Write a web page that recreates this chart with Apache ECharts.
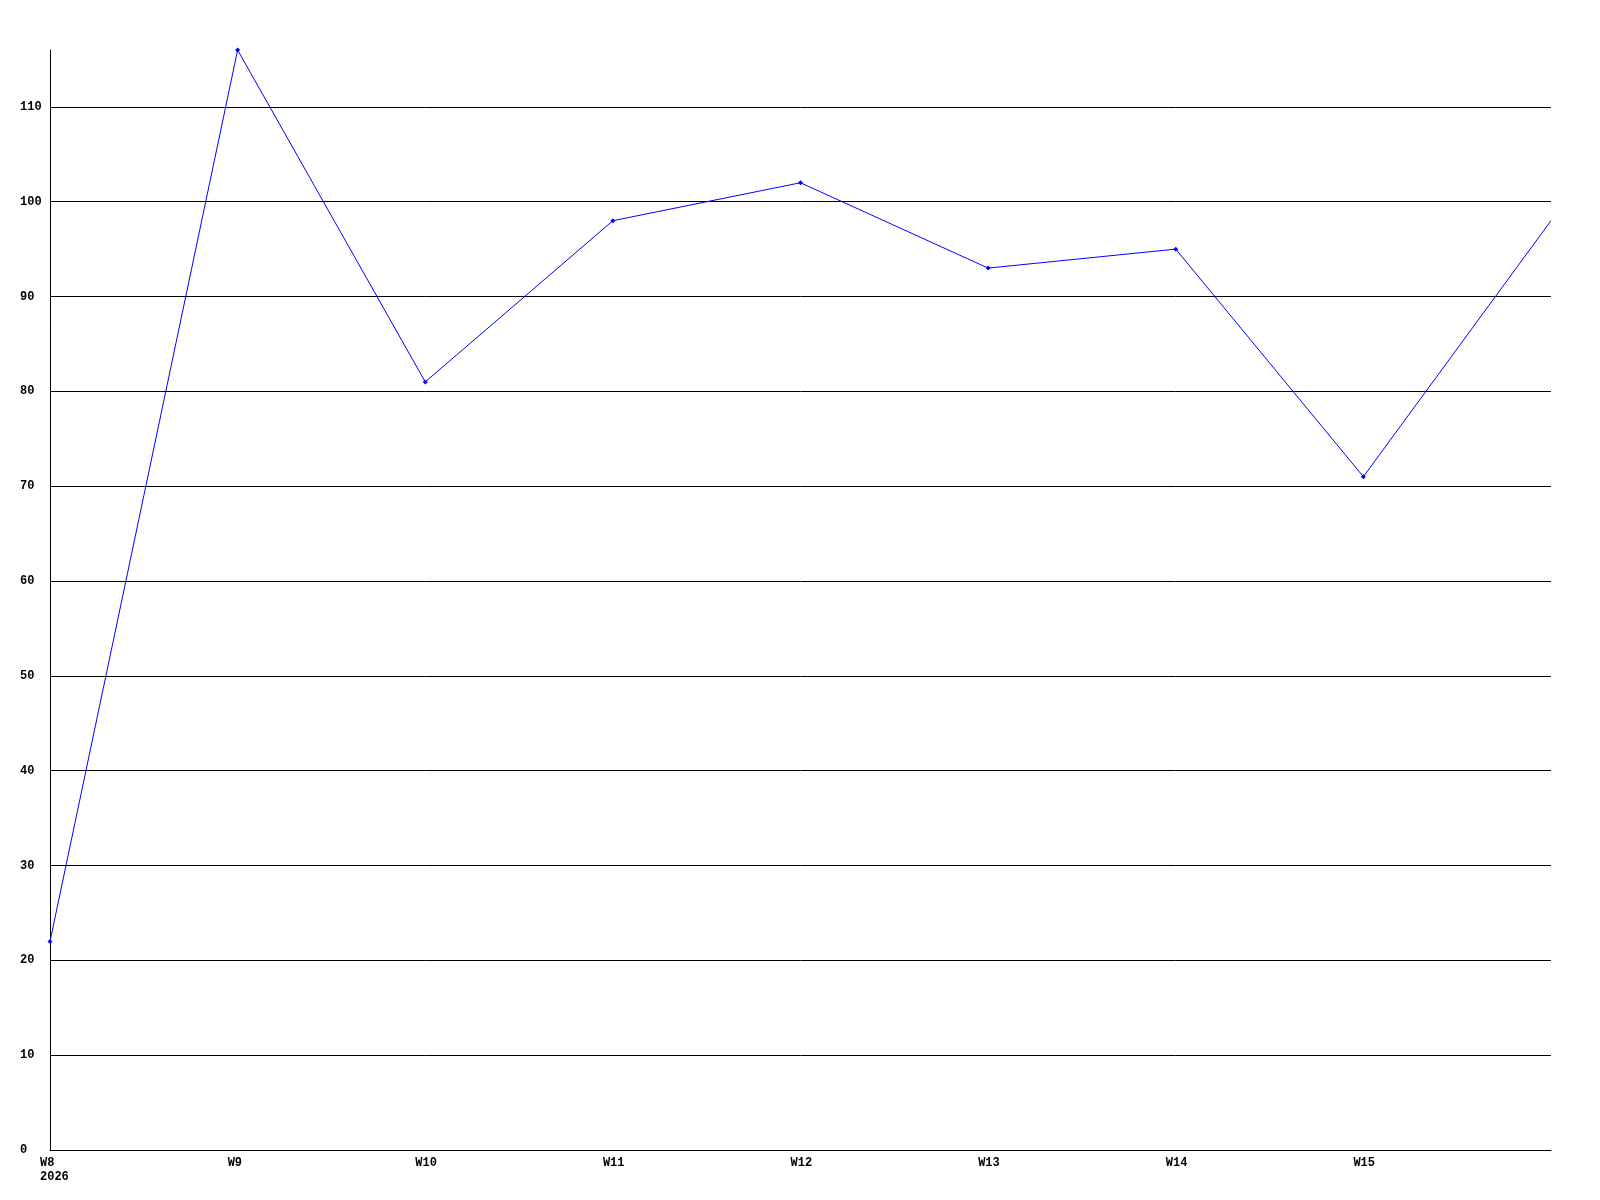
<!DOCTYPE html>
<html>
<head>
<meta charset="utf-8">
<script src="https://cdn.jsdelivr.net/npm/echarts@6/dist/echarts.min.js"></script>
<style>html,body{margin:0;padding:0;background:#fff}#c{width:1600px;height:1200px}</style>
</head>
<body>
<div id="c"></div>
<script>
const categories = ['W8', 'W9', 'W10', 'W11', 'W12', 'W13', 'W14', 'W15', 'W16'];
const categoryLabels = ['W8\n2026', 'W9', 'W10', 'W11', 'W12', 'W13', 'W14', 'W15', ''];
const values = [22, 116, 81, 98, 102, 93, 95, 71, 98];
const yMin = 0, yMax = 116, yInterval = 10;

const chart = echarts.init(document.getElementById('c'), null, {renderer: 'canvas'});
const font = {fontFamily: 'Liberation Mono, DejaVu Sans Mono, monospace', fontWeight: 'bold', fontSize: 12, color: '#000'};
chart.setOption({
  animation: false,
  backgroundColor: '#fff',
  grid: {left: 50, right: 49, top: 50, bottom: 50, containLabel: false},
  xAxis: {
    type: 'category',
    data: categories,
    boundaryGap: false,
    axisLine: {show: true, lineStyle: {color: '#000', width: 1}},
    axisTick: {show: false},
    splitLine: {show: false},
    axisLabel: Object.assign({}, font, {
      margin: 6, lineHeight: 14, verticalAlign: 'top', align: 'left', interval: 0,
      padding: [0, 0, 0, -10],
      formatter: (v, i) => categoryLabels[i]
    })
  },
  yAxis: {
    type: 'value',
    min: yMin, max: yMax, interval: yInterval,
    axisLine: {show: true, lineStyle: {color: '#000', width: 1}},
    axisTick: {show: false},
    splitLine: {show: true, showMaxLine: false, lineStyle: {color: '#000', width: 1}},
    axisLabel: Object.assign({}, font, {align: 'left', margin: 30, showMaxLabel: false})
  },
  series: [{
    type: 'line',
    data: values.map((v, i) => i === values.length - 1 ? {value: v, symbol: 'none'} : v),
    symbol: 'diamond',
    symbolSize: 5,
    showAllSymbol: true,
    lineStyle: {color: '#0000ff', width: 1},
    itemStyle: {color: '#0000ff'}
  }]
});
</script>
</body>
</html>
